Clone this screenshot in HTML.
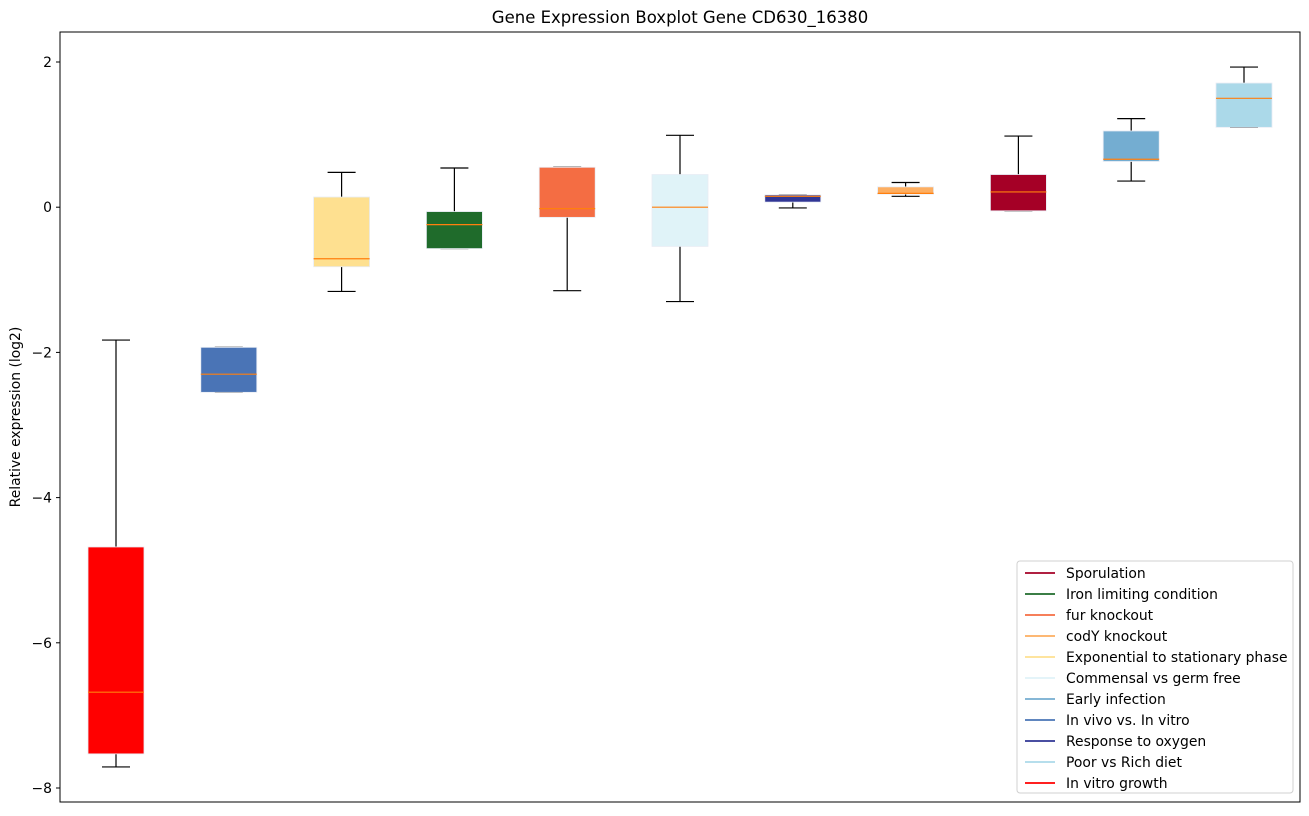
<!DOCTYPE html>
<html><head><meta charset="utf-8"><style>
body{margin:0;background:#fff;font-family:"DejaVu Sans",sans-serif}
svg text{font-family:"DejaVu Sans","Liberation Sans",sans-serif}
</style></head><body>
<svg id="chart" width="1309" height="812" xmlns="http://www.w3.org/2000/svg">
<text x="680" y="23" text-anchor="middle" font-size="16.5">Gene Expression Boxplot Gene CD630_16380</text>
<text transform="translate(20,417) rotate(-90)" text-anchor="middle" font-size="13.9">Relative expression (log2)</text>
<g id="marks"></g>
<g id="yaxis"></g>
<rect x="60" y="32" width="1240" height="770" fill="none" stroke="#000" stroke-width="1"/>
<g id="legend"></g>
</svg>
<script>
const categories=["In vitro growth","In vivo vs. In vitro","Exponential to stationary phase","Iron limiting condition","fur knockout","Commensal vs germ free","Response to oxygen","codY knockout","Sporulation","Early infection","Poor vs Rich diet"];
const colors=["#ff0000","#4a74b6","#fee090","#1f6b2b","#f46d43","#e0f3f8","#313695","#fdae61","#a50026","#74add1","#abd9e9"];
const whisLo=[-7.71,-2.55,-1.16,-0.57,-1.15,-1.30,-0.01,0.15,-0.05,0.36,1.10];
const q1=[-7.53,-2.55,-0.82,-0.57,-0.14,-0.54,0.07,0.18,-0.05,0.63,1.10];
const med=[-6.68,-2.30,-0.71,-0.24,-0.02,0.00,0.15,0.19,0.21,0.66,1.50];
const q3=[-4.68,-1.93,0.14,-0.06,0.55,0.45,0.17,0.28,0.45,1.05,1.71];
const whisHi=[-1.83,-1.93,0.48,0.54,0.55,0.99,0.17,0.34,0.98,1.22,1.93];
const yTicks=[2,0,-2,-4,-6,-8];
const legendOrder=["Sporulation","Iron limiting condition","fur knockout","codY knockout","Exponential to stationary phase","Commensal vs germ free","Early infection","In vivo vs. In vitro","Response to oxygen","Poor vs Rich diet","In vitro growth"];

const NS="http://www.w3.org/2000/svg";
const y=v=>207.2-v*72.6;
const x=i=>116+i*112.8;
function mk(tag,attrs,parent){const e=document.createElementNS(NS,tag);for(const k in attrs)e.setAttribute(k,attrs[k]);parent.appendChild(e);return e;}
const marks=document.getElementById('marks');
categories.forEach((c,i)=>{
  const g=mk('g',{},marks);
  
  
  const cx=x(i);
  const l1=mk('line',{x1:cx,x2:cx,y1:y(q1[i]),y2:y(whisLo[i]),stroke:'#000','stroke-width':1.2},g);
  
  const l2=mk('line',{x1:cx,x2:cx,y1:y(q3[i]),y2:y(whisHi[i]),stroke:'#000','stroke-width':1.2},g);
  
  const c1=mk('line',{x1:cx-14,x2:cx+14,y1:y(whisLo[i]),y2:y(whisLo[i]),stroke:'#000','stroke-width':1.2},g);
  
  const c2=mk('line',{x1:cx-14,x2:cx+14,y1:y(whisHi[i]),y2:y(whisHi[i]),stroke:'#000','stroke-width':1.2},g);
  
  const r=mk('rect',{x:cx-28,y:y(q3[i]),width:56,height:Math.max(1,y(q1[i])-y(q3[i])),fill:colors[i],stroke:'#e8ecf4','stroke-width':0.8},g);
  
  const m=mk('line',{x1:cx-28,x2:cx+28,y1:y(med[i]),y2:y(med[i]),stroke:'#ff7f0e','stroke-width':1.2},g);
  
});
const ya=document.getElementById('yaxis');
yTicks.forEach(t=>{
  const l=mk('line',{x1:56,x2:60,y1:y(t),y2:y(t),stroke:'#000'},ya);
  
  const tx=mk('text',{x:52,y:y(t)+5,'text-anchor':'end','font-size':13.9},ya);
  tx.textContent=(t<0?'\u2212'+(-t):t);
  
});
const lg=document.getElementById('legend');
const fr=mk('rect',{x:1017,y:561,width:276,height:232,rx:3,fill:'#fff',stroke:'#d0d0d0'},lg);

legendOrder.forEach((n,k)=>{
  const i=categories.indexOf(n);
  const g=mk('g',{},lg);
  
  
  const yy=573+k*21;
  mk('line',{x1:1025,x2:1055,y1:yy,y2:yy,stroke:colors[i],'stroke-width':1.8},g);
  const t=mk('text',{x:1066,y:yy+5,'font-size':13.9},g);
  t.textContent=n;
});
</script>
</body></html>
